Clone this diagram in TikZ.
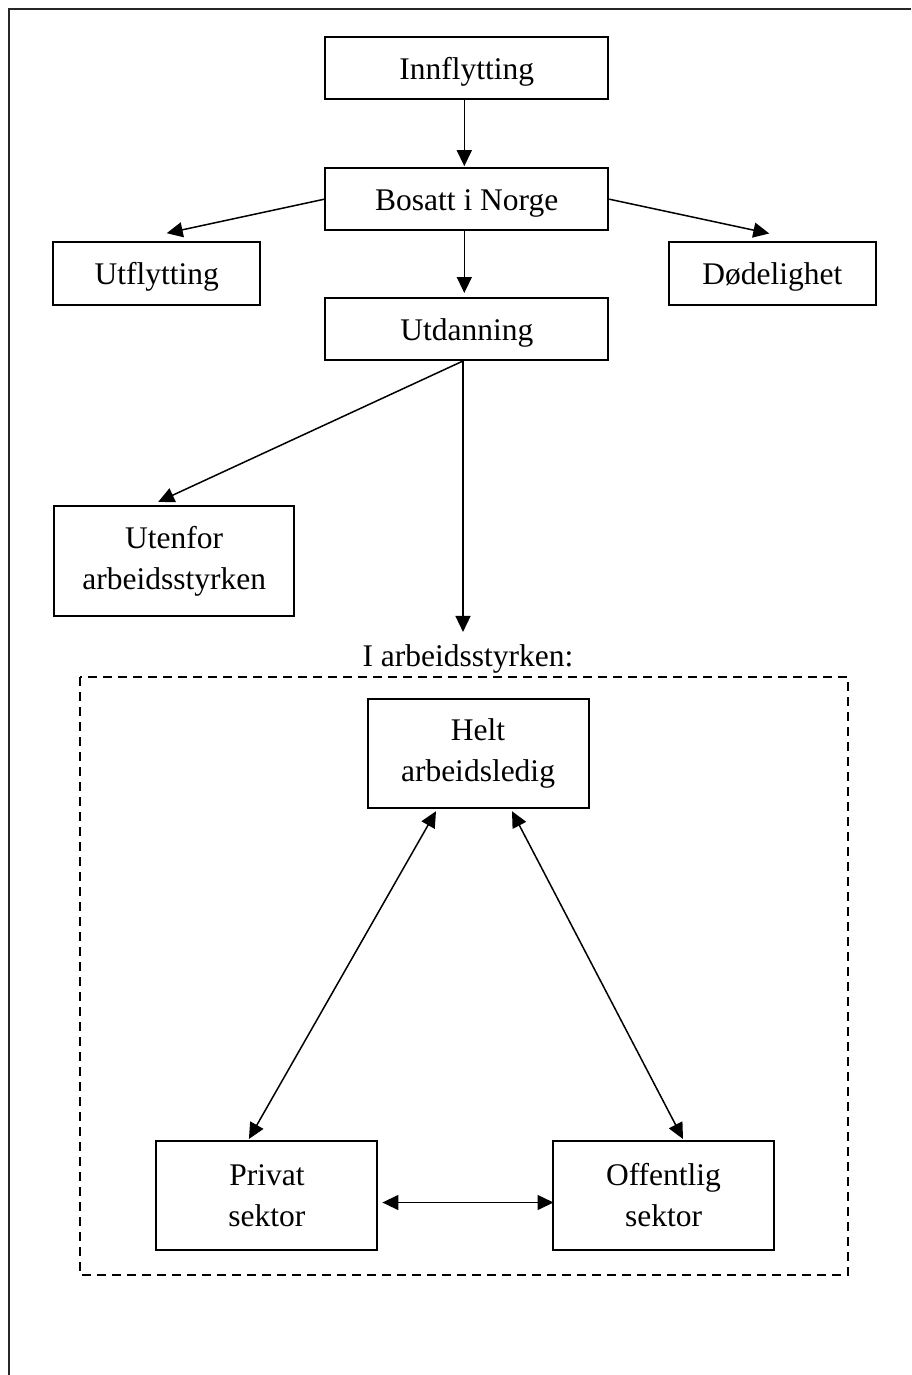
\documentclass[tikz,border=0pt]{standalone}
\usepackage{fontspec}
\setmainfont{Liberation Serif}
\usetikzlibrary{arrows.meta}
\begin{document}
\begin{tikzpicture}[x=1pt,y=-1pt,
  txt/.style={font=\fontsize{31.5}{41}\selectfont},
  box/.style={txt, draw, line width=2pt, inner sep=0pt, align=center},
  sbox/.style={box, text height=22pt, text depth=0pt},
  conn/.style={line width=1.5pt, -{Triangle[length=16pt,width=15pt]}},
  bconn/.style={line width=1.5pt, {Triangle[length=16pt,width=15pt]}-{Triangle[length=16pt,width=15pt]}},
  pageframe/.style={line width=2.2pt, black!85},
  dbox/.style={line width=2pt, dash pattern=on 9pt off 6pt}]
\useasboundingbox (0,0) rectangle (911,1375);
% page frame (top and left edges)
\draw[pageframe] (9.3,1375) -- (9.3,9.3) -- (911,9.3);
% boxes
\node[sbox, minimum width=283pt, minimum height=62pt] (inn) at (466.8,68.3) {Innflytting};
\node[sbox, minimum width=283pt, minimum height=62pt] (bos) at (466.8,199.2) {Bosatt i Norge};
\node[sbox, minimum width=207pt, minimum height=63pt] (utf) at (156.7,273.7) {Utflytting};
\node[sbox, minimum width=207pt, minimum height=63pt] (dod) at (772.3,273) {Dødelighet};
\node[sbox, minimum width=283pt, minimum height=62pt] (utd) at (466.8,329) {Utdanning};
\node[box, minimum width=240pt, minimum height=110pt] (ute) at (174.2,560.9) {Utenfor\\arbeidsstyrken};
\node[txt, inner sep=0pt, anchor=base] (lbl) at (468,666) {I arbeidsstyrken:};
\draw[dbox] (80,677) rectangle (848,1275);
\node[box, minimum width=221pt, minimum height=109pt] (helt) at (478,753.7) {Helt\\arbeidsledig};
\node[box, minimum width=221pt, minimum height=109pt] (priv) at (266.9,1195.5) {Privat\\sektor};
\node[box, minimum width=221pt, minimum height=109pt] (off) at (663.5,1195.5) {Offentlig\\sektor};
% connectors
\draw[conn] ([xshift=-2.5pt]inn.south) -- ([xshift=-2.5pt,yshift=1pt]bos.north);
\draw[conn] (bos.west) -- ([xshift=10pt,yshift=8pt]utf.north);
\draw[conn] (bos.east) -- ([xshift=-3pt,yshift=7pt]dod.north);
\draw[conn] ([xshift=-2.5pt]bos.south) -- ([xshift=-2.5pt,yshift=4pt]utd.north);
\draw[conn] ([xshift=-3.8pt]utd.south) -- ([xshift=-16pt,yshift=3pt]ute.north);
\draw[conn] ([xshift=-3.8pt]utd.south) -- ([xshift=-5pt,yshift=12pt]lbl.north);
\draw[bconn] ([xshift=-42pt,yshift=-2pt]helt.south) -- ([xshift=-18pt,yshift=1pt]priv.north);
\draw[bconn] ([xshift=34pt,yshift=-2pt]helt.south) -- ([xshift=19.5pt,yshift=1pt]off.north);
\draw[bconn] ([xshift=4pt,yshift=-7pt]priv.east) -- ([xshift=1.5pt,yshift=-7pt]off.west);
\end{tikzpicture}
\end{document}
